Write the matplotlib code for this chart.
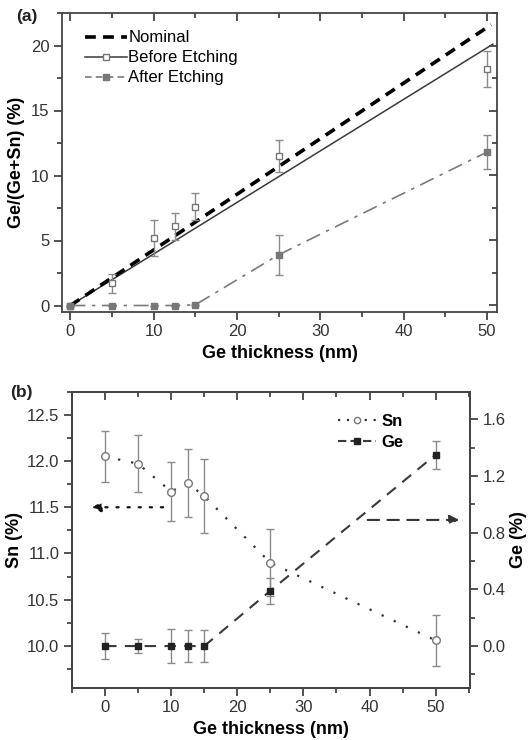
import matplotlib
matplotlib.use("Agg")
import matplotlib.pyplot as plt
from matplotlib.ticker import MultipleLocator, FormatStrFormatter

plt.rcParams['font.family'] = ['Liberation Sans', 'DejaVu Sans']

# ---- panel (a): Ge fraction vs Ge thickness ----
thickness = [0, 5, 10, 12.5, 15, 25, 50]
before_vals = [0.0, 1.7, 5.2, 6.1, 7.6, 11.5, 18.2]
before_err = [0.0, 0.7, 1.4, 1.05, 1.05, 1.2, 1.4]
after_vals = [0.0, 0.0, 0.0, 0.0, 0.05, 3.9, 11.8]
after_err = [0.0, 0.0, 0.0, 0.0, 0.0, 1.55, 1.3]
nominal_x = [0, 50.5]
nominal_y = [0, 21.6]
before_fit_x = [0, 50.7]
before_fit_y = [0, 20.1]

# ---- panel (b): Sn and Ge content ----
sn_vals = [12.05, 11.97, 11.67, 11.76, 11.62, 10.90, 10.06]
sn_err = [0.28, 0.31, 0.32, 0.37, 0.40, 0.36, 0.28]
ge_vals = [0.0, 0.0, 0.0, 0.0, 0.0, 0.39, 1.35]
ge_err = [0.09, 0.05, 0.12, 0.11, 0.11, 0.09, 0.10]

W, H = 529, 740
fig = plt.figure(figsize=(W / 100, H / 100), dpi=100)

tick_col = '#333333'
spine_col = '#444444'
err_col = '#8a8a8a'
tick_fs = 12
label_fs = 13
tick_w = 1.3


def style_axes(ax):
    for s in ax.spines.values():
        s.set_color(spine_col)
        s.set_linewidth(1.3)
    ax.tick_params(which='both', direction='out', colors=spine_col,
                   labelcolor=tick_col, labelsize=tick_fs, width=tick_w)
    ax.tick_params(which='major', length=5.5)
    ax.tick_params(which='minor', length=3.5)


def top_ticks(ax, xmaj, xmin):
    """Inward tick marks along the top edge."""
    tw = ax.twiny()
    tw.set_xlim(ax.get_xlim())
    tw.xaxis.set_major_locator(MultipleLocator(xmaj))
    tw.xaxis.set_minor_locator(MultipleLocator(xmin))
    tw.tick_params(axis='x', which='both', direction='in', colors=spine_col,
                   labeltop=False, width=tick_w)
    tw.tick_params(axis='x', which='major', length=5.5)
    tw.tick_params(axis='x', which='minor', length=3.5)
    for s in tw.spines.values():
        s.set_visible(False)
    return tw


def right_ticks(ax, ymaj, ymin):
    """Inward tick marks along the right edge."""
    tw = ax.twinx()
    tw.set_ylim(ax.get_ylim())
    tw.yaxis.set_major_locator(MultipleLocator(ymaj))
    tw.yaxis.set_minor_locator(MultipleLocator(ymin))
    tw.tick_params(axis='y', which='both', direction='in', colors=spine_col,
                   labelright=False, width=tick_w)
    tw.tick_params(axis='y', which='major', length=5.5)
    tw.tick_params(axis='y', which='minor', length=3.5)
    for s in tw.spines.values():
        s.set_visible(False)
    return tw


# ================= (a) =================
axa = fig.add_axes([62 / W, 1 - 312 / H, (497 - 62) / W, (312 - 13) / H])
style_axes(axa)
axa.set_xlim(-1, 51.2)
axa.set_ylim(-0.5, 22.5)
axa.xaxis.set_major_locator(MultipleLocator(10))
axa.xaxis.set_minor_locator(MultipleLocator(5))
axa.yaxis.set_major_locator(MultipleLocator(5))
axa.yaxis.set_minor_locator(MultipleLocator(2.5))

axa.plot(nominal_x, nominal_y, color='black', lw=2.6, ls=(0, (3, 2)),
         zorder=3)
axa.plot(before_fit_x, before_fit_y, color='#3a3a3a', lw=1.1, zorder=2)
axa.plot(thickness, after_vals, color='#7a7a7a', lw=1.2,
         ls=(0, (9, 4, 2, 4)), zorder=2)
axa.errorbar(thickness, before_vals, yerr=before_err, fmt='s', ms=5,
             mfc='white', mec='#777777', mew=1.0, ecolor=err_col,
             elinewidth=1.0, capsize=3, capthick=1.0, zorder=4)
axa.errorbar(thickness, after_vals, yerr=after_err, fmt='s', ms=5,
             mfc='#777777', mec='#777777', ecolor=err_col,
             elinewidth=1.0, capsize=3, capthick=1.0, zorder=4)

# legend handles
h_nom, = axa.plot([], [], color='black', lw=2.6, ls=(0, (3, 2)))
h_bef, = axa.plot([], [], color='#3a3a3a', lw=1.1, marker='s', ms=4,
                  mfc='white', mec='#777777')
h_aft, = axa.plot([], [], color='#7a7a7a', lw=1.2, ls=(0, (4, 2.5)),
                  marker='s', ms=4, mfc='#777777', mec='#777777')
axa.legend([h_nom, h_bef, h_aft], ['Nominal', 'Before Etching', 'After Etching'],
           loc='upper left', bbox_to_anchor=(0.03, 0.975), frameon=False,
           fontsize=12, handlelength=2.5, handletextpad=0.1,
           labelspacing=0.3, numpoints=1, borderaxespad=0.2)

axa.set_xlabel('Ge thickness (nm)', fontsize=label_fs, fontweight='bold',
               labelpad=4)
axa.set_ylabel('Ge/(Ge+Sn) (%)', fontsize=label_fs, fontweight='bold',
               labelpad=4)

top_ticks(axa, 10, 5)
right_ticks(axa, 5, 2.5)

fig.text(16 / W, 1 - 16 / H, '(a)', fontsize=12.5, fontweight='bold',
         ha='left', va='center', color='#222222')

# ================= (b) =================
axb = fig.add_axes([72 / W, 1 - 688 / H, (470 - 72) / W, (688 - 391.7) / H])
style_axes(axb)
axb.set_xlim(-5, 55.2)
axb.set_ylim(9.545, 12.75)
axb.xaxis.set_major_locator(MultipleLocator(10))
axb.xaxis.set_minor_locator(MultipleLocator(5))
axb.yaxis.set_major_locator(MultipleLocator(0.5))
axb.yaxis.set_minor_locator(MultipleLocator(0.25))
axb.yaxis.set_major_formatter(FormatStrFormatter('%.1f'))

top_ticks(axb, 10, 5)

axg = axb.twinx()
style_axes(axg)
axg.set_ylim(-0.296, 1.795)
axg.yaxis.set_major_locator(MultipleLocator(0.4))
axg.yaxis.set_minor_locator(MultipleLocator(0.2))
axg.yaxis.set_major_formatter(FormatStrFormatter('%.1f'))

axb.plot(thickness, sn_vals, color='#333333', lw=1.6, ls=(0, (1, 5)),
         zorder=2)
axb.errorbar(thickness, sn_vals, yerr=sn_err, fmt='o', ms=5.5,
             mfc='white', mec='#777777', mew=1.0, ecolor=err_col,
             elinewidth=1.0, capsize=3, capthick=1.0, zorder=4)
axg.plot(thickness, ge_vals, color='#3a3a3a', lw=1.5, ls=(0, (5.5, 4)),
         zorder=2)
axg.errorbar(thickness, ge_vals, yerr=ge_err, fmt='s', ms=5,
             mfc='#222222', mec='#222222', ecolor=err_col,
             elinewidth=1.0, capsize=3, capthick=1.0, zorder=4)

# axis pointer arrows
axb.annotate('', xy=(-2.5, 11.5), xytext=(9.2, 11.5),
             arrowprops=dict(arrowstyle='-|>', color='#111111', lw=1.6,
                             ls=(0, (1, 4)), mutation_scale=14))
axg.annotate('', xy=(54.0, 0.89), xytext=(39.3, 0.89),
             arrowprops=dict(arrowstyle='-|>', color='#333333', lw=1.5,
                             ls=(0, (5.5, 4)), mutation_scale=14))

h_sn, = axg.plot([], [], color='#333333', lw=1.6, ls=(0, (1, 3)),
                 marker='o', ms=4.5, mfc='white', mec='#777777')
h_ge, = axg.plot([], [], color='#3a3a3a', lw=1.5, ls=(0, (4, 2)),
                 marker='s', ms=4, mfc='#222222', mec='#222222')
axg.legend([h_sn, h_ge], ['Sn', 'Ge'], loc='upper right',
           bbox_to_anchor=(0.87, 0.975), frameon=False,
           prop={'size': 12, 'weight': 'bold'}, handlelength=2.3,
           handletextpad=0.3, labelspacing=0.35, numpoints=1)

axb.set_xlabel('Ge thickness (nm)', fontsize=label_fs, fontweight='bold',
               labelpad=4)
axb.set_ylabel('Sn (%)', fontsize=label_fs, fontweight='bold', labelpad=3)
axg.set_ylabel('Ge (%)', fontsize=label_fs, fontweight='bold', labelpad=3)

fig.text(10 / W, 1 - 393 / H, '(b)', fontsize=12.5, fontweight='bold',
         ha='left', va='center', color='#222222')

fig.savefig('out.png', dpi=100)
